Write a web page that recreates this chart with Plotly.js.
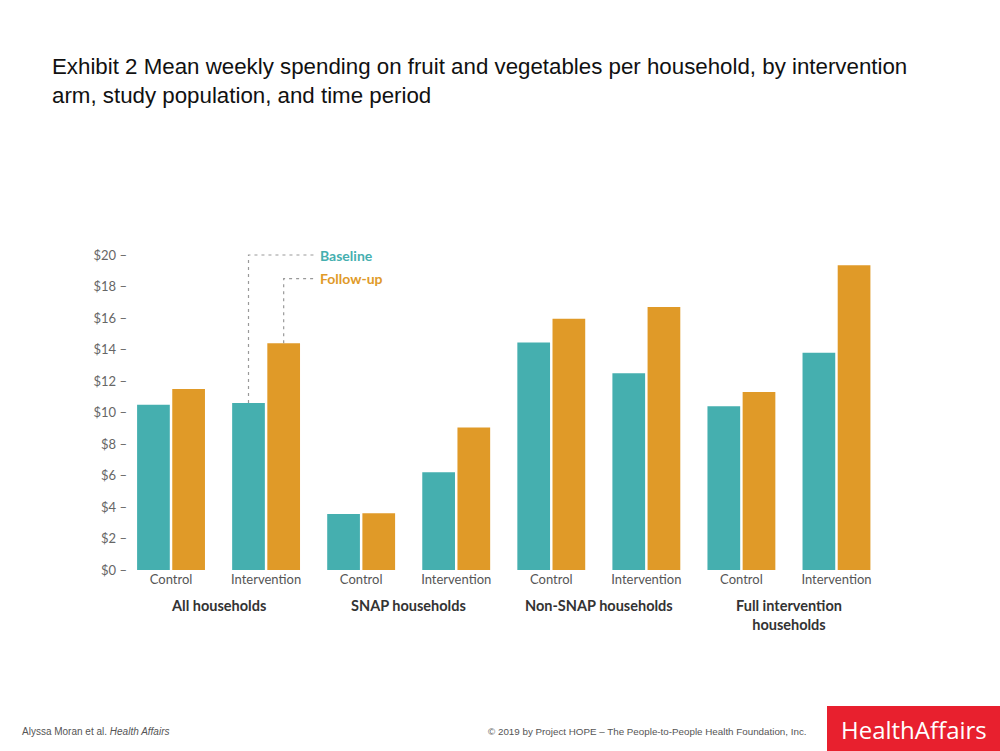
<!DOCTYPE html>
<html>
<head>
<meta charset="utf-8">
<script src="https://cdn.plot.ly/plotly-3.0.1.min.js"></script>
<style>html,body{margin:0;padding:0;background:#fff;}#chart{width:1000px;height:751px;}</style>
</head>
<body>
<div id="chart"></div>
<script>
// Data
const armLabels = ["Control","Intervention","Control","Intervention","Control","Intervention","Control","Intervention"];
const groupLabels = ["All households","SNAP households","Non-SNAP households","Full intervention<br>households"];
const baseline = [10.5, 10.6, 3.55, 6.2, 14.45, 12.5, 10.4, 13.8];
const followUp = [11.5, 14.4, 3.6, 9.05, 15.95, 16.7, 11.3, 19.35];
const yTicks = [0,2,4,6,8,10,12,14,16,18,20];
const yTickText = yTicks.map(v => "$" + v + " \u2013");

const TEAL = "#45AFAF", ORANGE = "#E09A28";
const xs = armLabels.map((_, i) => i);
const bargap = 0.26, bargroupgap = 0.07;
const off = (1 - bargap) / 4; // center offset of each bar in a pair

const traces = [
  {type:"bar", name:"Baseline", x:xs, y:baseline, marker:{color:TEAL}, hoverinfo:"y"},
  {type:"bar", name:"Follow-up", x:xs, y:followUp, marker:{color:ORANGE}, hoverinfo:"y"}
];

const fontFam = "Lato, 'Open Sans', sans-serif";
const L = 128, R = 884, T = 247, B = 570;
const pw = R - L, ph = B - T;
function px2paperX(px){ return (px - L) / pw; }
function px2paperY(py){ return (B - py) / ph; }

const annotations = [];
groupLabels.forEach((g, k) => {
  annotations.push({x: 2*k + 0.5, y: 0, xref:"x", yref:"y", yshift:-25, yanchor:"top",
    text: "<b>" + g + "</b>", showarrow:false, font:{family:fontFam, size:14.5, color:"#333"}});
});
// legend callouts (anchored to Intervention bars of "All households")
const legX = 1.52;
annotations.push({x: legX, y: 20, xref:"x", yref:"y", xanchor:"left", xshift:2, text:"<b>Baseline</b>", showarrow:false,
  font:{family:fontFam, size:14, color:TEAL}});
annotations.push({x: legX, y: 18.5, xref:"x", yref:"y", xanchor:"left", xshift:2, text:"<b>Follow-up</b>", showarrow:false,
  font:{family:fontFam, size:14, color:ORANGE}});
// footer
annotations.push({x:px2paperX(20), y:px2paperY(731), xref:"paper", yref:"paper", text:"Alyssa Moran et al. <i>Health Affairs</i>", showarrow:false,
  xanchor:"left", yanchor:"middle", font:{family:"Liberation Sans, Arial", size:10, color:"#555"}});
annotations.push({x:px2paperX(486), y:px2paperY(731), xref:"paper", yref:"paper", text:"\u00a9 2019 by Project HOPE \u2013 The People-to-People Health Foundation, Inc.", showarrow:false,
  xanchor:"left", yanchor:"middle", font:{family:"Liberation Sans, Arial", size:9.8, color:"#555"}});
annotations.push({x:px2paperX(914), y:px2paperY(729), xref:"paper", yref:"paper", text:"HealthAffairs", showarrow:false,
  xanchor:"center", yanchor:"middle", font:{family:"'Open Sans', Lato, sans-serif", size:24, color:"#fff"}});

const dash = {color:"#999", width:1.2, dash:"3px,4px"};
const shapes = [
  {type:"path", xref:"x", yref:"y", path:`M ${1-off} ${baseline[1]} L ${1-off} 20 L ${legX} 20`, line:dash},
  {type:"path", xref:"x", yref:"y", path:`M ${1+off} ${followUp[1]} L ${1+off} 18.5 L ${legX} 18.5`, line:dash},
  {type:"rect", xref:"paper", yref:"paper", x0:px2paperX(827), x1:px2paperX(1000), y0:px2paperY(751), y1:px2paperY(706),
    fillcolor:"#E8202E", line:{width:0}, layer:"below"}
];

const layout = {
  width:1000, height:751,
  margin:{l:L, r:1000-R, t:T, b:751-B, pad:0},
  paper_bgcolor:"#fff", plot_bgcolor:"#fff",
  showlegend:false,
  barmode:"group", bargap:bargap, bargroupgap:bargroupgap,
  title:{text:"Exhibit 2 Mean weekly spending on fruit and vegetables per household, by intervention<br>arm, study population, and time period",
    x:0.052, xref:"container", xanchor:"left", y:1 - 74/751, yref:"container", yanchor:"top",
    font:{family:"Liberation Sans, Arial, sans-serif", size:22.3, color:"#111"}},
  xaxis:{range:[(L-171)/95, 7.5], tickvals:xs, ticktext:armLabels, showgrid:false, zeroline:false,
    showline:false, ticks:"", tickfont:{family:fontFam, size:13, color:"#555"}, fixedrange:true},
  yaxis:{range:[0, (B-T)/15.75], tickvals:yTicks, ticktext:yTickText, showgrid:false, zeroline:false,
    showline:false, ticks:"", tickfont:{family:fontFam, size:13, color:"#666"}, fixedrange:true},
  annotations:annotations, shapes:shapes
};
Plotly.newPlot("chart", traces, layout, {displayModeBar:false, staticPlot:true});
</script>
</body>
</html>
